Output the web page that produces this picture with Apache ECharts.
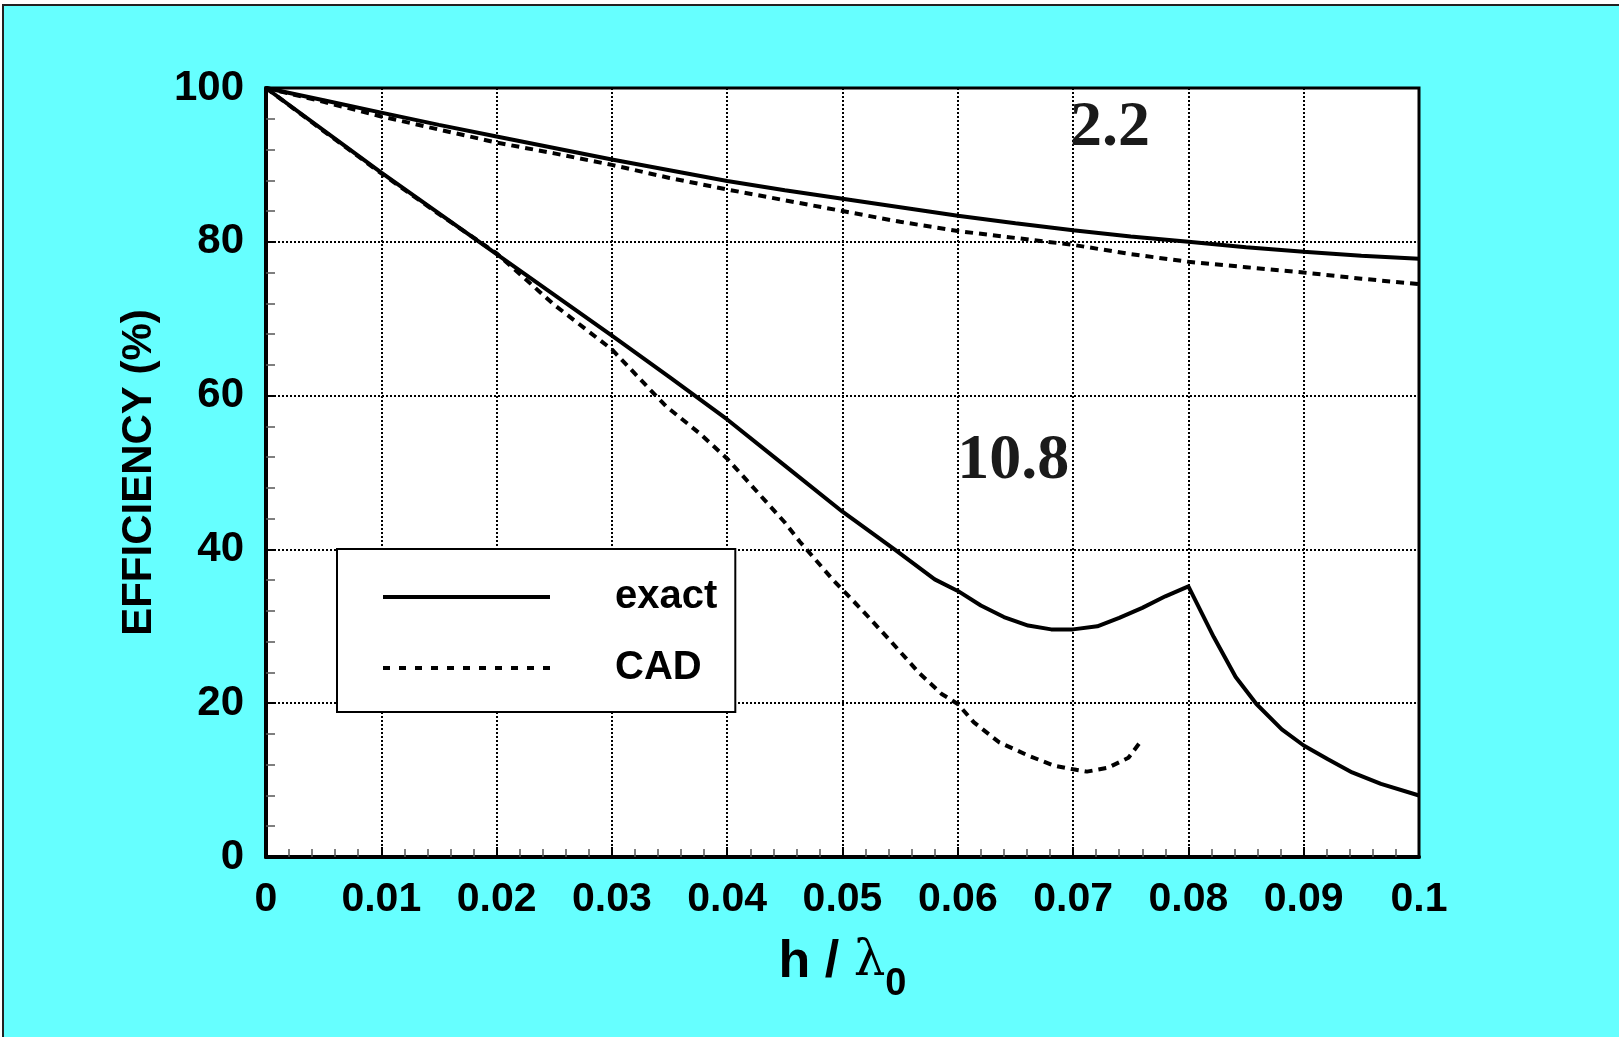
<!DOCTYPE html>
<html>
<head>
<meta charset="utf-8">
<script src="https://cdn.jsdelivr.net/npm/echarts@6/dist/echarts.min.js"></script>
<style>
html,body{margin:0;padding:0;background:#fff;}
#chart{width:1619px;height:1037px;}
</style>
</head>
<body>
<div id="chart"></div>
<script>
// ---- data ----
const xTickLabels = ['0','0.01','0.02','0.03','0.04','0.05','0.06','0.07','0.08','0.09','0.1'];
const yTickLabels = ['0','20','40','60','80','100'];

const exact22X = [0,0.005,0.01,0.015,0.02,0.025,0.03,0.035,0.04,0.045,0.05,0.055,0.06,0.065,0.07,0.075,0.08,0.085,0.09,0.095,0.1];
const exact22Y = [100,98.4,96.8,95.2,93.7,92.2,90.7,89.3,87.9,86.7,85.6,84.5,83.4,82.4,81.5,80.7,80.0,79.3,78.7,78.2,77.8];

const cad22X = [0,0.005,0.01,0.015,0.02,0.025,0.03,0.035,0.04,0.045,0.05,0.055,0.06,0.065,0.07,0.075,0.08,0.085,0.09,0.095,0.1];
const cad22Y = [100,98.2,96.3,94.6,92.9,91.5,90.0,88.3,86.8,85.4,84.0,82.6,81.4,80.5,79.6,78.4,77.4,76.7,76.0,75.2,74.5];

const exact108X = [0,0.005,0.01,0.015,0.02,0.025,0.03,0.035,0.04,0.045,0.05,0.0546,0.058,0.06,0.062,0.064,0.0661,0.0681,0.07,0.0721,0.074,0.076,0.078,0.08,0.0822,0.0841,0.0859,0.0881,0.09,0.0921,0.0942,0.0967,0.1];
const exact108Y = [100,94.5,89.0,83.7,78.4,73.1,67.8,62.4,56.9,50.9,44.9,39.9,36.1,34.6,32.7,31.2,30.1,29.6,29.6,30.0,31.1,32.4,33.9,35.2,28.6,23.4,19.9,16.6,14.5,12.7,11.0,9.5,8.0];

const cad108X = [0,0.005,0.01,0.015,0.02,0.025,0.03,0.0347,0.0376,0.04,0.045,0.0463,0.0492,0.0517,0.0541,0.0566,0.0586,0.06,0.0614,0.0636,0.0661,0.0683,0.07,0.0712,0.073,0.0748,0.076];
const cad108Y = [100,94.4,88.9,83.6,78.5,71.8,66.0,58.6,55.1,51.8,43.5,41.0,36.0,32.1,28.2,24.0,21.2,19.9,17.5,14.9,13.2,11.9,11.4,11.1,11.6,12.9,15.3];

const annotTexts = ['2.2','10.8'];
const annotX = [0.0732,0.0648];
const annotY = [94.7,51.4];

// ---- build ----
const zip = (xs, ys) => xs.map((x, i) => [x, ys[i]]);
const solid = {color:'#000', width:4, type:'solid'};
const dashed = {color:'#000', width:4, type:[8,6]};

const chart = echarts.init(document.getElementById('chart'), null, {renderer:'canvas'});
const FONT = 'Liberation Sans, Arial, sans-serif';

const option = {
  animation:false,
  backgroundColor:'#fff',
  graphic:[{
    type:'rect', z:-10, silent:true,
    shape:{x:3,y:5,width:1700,height:1100},
    style:{fill:'#66FFFF', stroke:'#222', lineWidth:2}
  }],
  grid:{left:266, right:200, top:88, bottom:180, show:true, backgroundColor:'#fff', borderColor:'#000', borderWidth:3},
  legend:{
    data:[
      {name:'exact', lineStyle:{width:4, type:'solid', color:'#000'}},
      {name:'CAD', lineStyle:{width:4, type:[7,9], color:'#000'}}
    ],
    orient:'vertical',
    left:337, top:549,
    backgroundColor:'#fff', borderColor:'#000', borderWidth:2,
    padding:[28,18,24,44],
    itemWidth:167, itemHeight:40, itemGap:31,
    itemStyle:{opacity:0},
    textStyle:{fontFamily:FONT, fontWeight:'bold', fontSize:40, color:'#000', padding:[0,0,0,60], lineHeight:40},
    selectedMode:false
  },
  xAxis:{
    type:'value', min:0, max:0.1, interval:0.01,
    name:'{a|h / }{b|λ}{c|0}',
    nameLocation:'middle', nameGap:80,
    nameTextStyle:{
      rich:{
        a:{fontFamily:FONT, fontWeight:'bold', fontSize:52, color:'#000', lineHeight:52, verticalAlign:'top'},
        b:{fontFamily:'DejaVu Serif, serif', fontSize:50, color:'#000', lineHeight:52, verticalAlign:'top'},
        c:{fontFamily:FONT, fontWeight:'bold', fontSize:38, color:'#000', lineHeight:38, padding:[29,0,0,0], verticalAlign:'top'}
      }
    },
    axisLine:{show:true, lineStyle:{color:'#000', width:4}},
    axisTick:{show:true, inside:true, length:10, lineStyle:{color:'#000', width:2}},
    minorTick:{show:true, splitNumber:5, length:8, lineStyle:{color:'#555', width:1.5}},
    splitLine:{show:true, lineStyle:{color:'#000', width:2, type:[2,2]}},
    axisLabel:{
      fontFamily:FONT, fontWeight:'bold', fontSize:41, color:'#000', margin:22,
      formatter:(v) => xTickLabels[Math.round(v/0.01)]
    }
  },
  yAxis:{
    type:'value', min:0, max:100, interval:20,
    name:'EFFICIENCY (%)',
    nameLocation:'middle', nameGap:106, nameRotate:90,
    nameTextStyle:{fontFamily:FONT, fontWeight:'bold', fontSize:42, color:'#000'},
    axisLine:{show:true, lineStyle:{color:'#000', width:4}},
    axisTick:{show:true, inside:true, length:10, lineStyle:{color:'#000', width:2}},
    minorTick:{show:true, splitNumber:5, length:9, lineStyle:{color:'#555', width:1.5}},
    splitLine:{show:true, lineStyle:{color:'#000', width:2, type:[2,2]}},
    axisLabel:{
      fontFamily:FONT, fontWeight:'bold', fontSize:42, color:'#000', margin:22,
      formatter:(v) => yTickLabels[Math.round(v/20)]
    }
  },
  series:[
    {name:'exact', type:'line', data:zip(exact22X, exact22Y), showSymbol:false, symbol:'none', lineStyle:solid, itemStyle:{color:'#000'}, z:5},
    {name:'CAD', type:'line', data:zip(cad22X, cad22Y), showSymbol:false, symbol:'none', lineStyle:dashed, itemStyle:{color:'#000'}, z:5},
    {name:'exact', type:'line', data:zip(exact108X, exact108Y), showSymbol:false, symbol:'none', lineStyle:solid, itemStyle:{color:'#000'}, z:5},
    {name:'CAD', type:'line', data:zip(cad108X, cad108Y), showSymbol:false, symbol:'none', lineStyle:dashed, itemStyle:{color:'#000'}, z:5},
    {name:'labels', type:'scatter', symbolSize:0, silent:true,
     itemStyle:{opacity:1, color:'#1a1a1a'},
     data:annotX.map((x,i)=>({value:[x, annotY[i]], name:annotTexts[i]})),
     label:{show:true, position:'inside', formatter:(p)=>p.name, fontFamily:'Liberation Serif, Times New Roman, serif', fontWeight:'bold', fontSize:64, color:'#1a1a1a', opacity:1}
    }
  ]
};
chart.setOption(option);
</script>
</body>
</html>
